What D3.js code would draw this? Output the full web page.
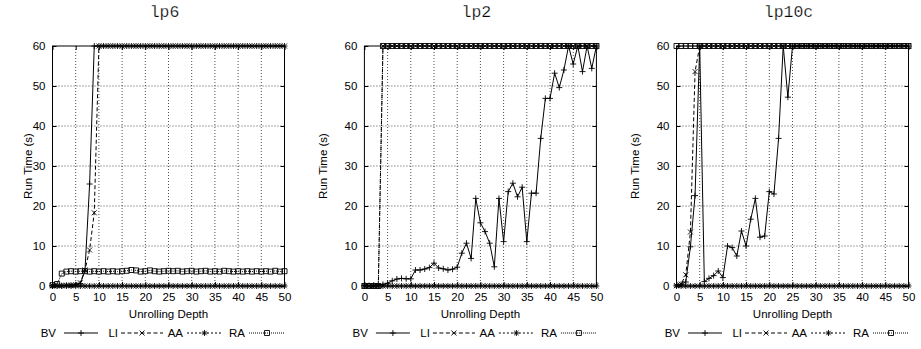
<!DOCTYPE html>
<html><head><meta charset="utf-8">
<script src="https://cdn.jsdelivr.net/npm/d3@7/dist/d3.min.js"></script>
<style>html,body{margin:0;padding:0;background:#fff}svg{display:block}</style>
</head><body>
<svg id="c" width="921" height="349"></svg>
<script>
const depths = [0,1,2,3,4,5,6,7,8,9,10,11,12,13,14,15,16,17,18,19,20,21,22,23,24,25,26,27,28,29,30,31,32,33,34,35,36,37,38,39,40,41,42,43,44,45,46,47,48,49,50];
const xTicks = [0,5,10,15,20,25,30,35,40,45,50];
const yTicks = [0,10,20,30,40,50,60];
const panelTitles = ["lp6","lp2","lp10c"];
const seriesNames = ["BV","LI","AA","RA"];

// lp6
const lp6BV = [0.1,0.1,0.1,0.2,0.2,0.3,0.6,3.8,25.5,60,60,60,60,60,60,60,60,60,60,60,60,60,60,60,60,60,60,60,60,60,60,60,60,60,60,60,60,60,60,60,60,60,60,60,60,60,60,60,60,60,60];
const lp6LI = [0.1,0.1,0.1,0.2,0.2,0.3,0.8,4.0,9.0,18.3,60,60,60,60,60,60,60,60,60,60,60,60,60,60,60,60,60,60,60,60,60,60,60,60,60,60,60,60,60,60,60,60,60,60,60,60,60,60,60,60,60];
const lp6AA = [0,0,0,0,0,0,0,0,0,0,0,0,0,0,0,0,0,0,0,0,0,0,0,0,0,0,0,0,0,0,0,0,0,0,0,0,0,0,0,0,0,0,0,0,0,0,0,0,0,0,0];
const lp6RA = [0.2,0.5,3.1,3.6,3.7,3.6,3.7,3.7,3.6,3.7,3.6,3.7,3.6,3.7,3.6,3.7,3.8,4.0,3.9,3.6,3.7,3.9,3.7,3.6,3.7,3.8,3.7,3.8,3.6,3.7,3.8,3.6,3.7,3.8,3.6,3.7,3.6,3.8,3.7,3.6,3.7,3.6,3.7,3.6,3.7,3.6,3.7,3.6,3.8,3.6,3.7];

// lp2
const lp2BV = [0.1,0.1,0.2,0.3,0.4,0.7,1.3,1.75,1.9,1.8,1.8,4.0,4.0,4.25,4.6,5.7,4.5,4.3,4.0,4.2,4.7,8.2,10.7,6.9,21.9,15.8,13.6,10.7,4.8,21.9,11.1,23.6,25.7,22.3,24.7,11.1,23.2,23.2,36.9,46.9,46.9,53.2,49.6,54.0,60,55.5,60,53.6,60,54.4,60];
const lp2LI = [0,0,0,0,60,60,60,60,60,60,60,60,60,60,60,60,60,60,60,60,60,60,60,60,60,60,60,60,60,60,60,60,60,60,60,60,60,60,60,60,60,60,60,60,60,60,60,60,60,60,60];
const lp2AA = [0,0,0,0,0,0,0,0,0,0,0,0,0,0,0,0,0,0,0,0,0,0,0,0,0,0,0,0,0,0,0,0,0,0,0,0,0,0,0,0,0,0,0,0,0,0,0,0,0,0,0];
const lp2RA = [0,0,0,0,60,60,60,60,60,60,60,60,60,60,60,60,60,60,60,60,60,60,60,60,60,60,60,60,60,60,60,60,60,60,60,60,60,60,60,60,60,60,60,60,60,60,60,60,60,60,60];

// lp10c
const lp10cBV = [0.2,0.4,1.0,9.8,22.6,60,1.1,1.9,2.6,3.75,2.1,10.0,9.6,7.5,13.75,10.0,16.7,21.9,12.2,12.5,23.6,23.0,36.9,60,47.2,60,60,60,60,60,60,60,60,60,60,60,60,60,60,60,60,60,60,60,60,60,60,60,60,60,60];
const lp10cLI = [0.1,0.5,2.8,13.5,53.6,60,60,60,60,60,60,60,60,60,60,60,60,60,60,60,60,60,60,60,60,60,60,60,60,60,60,60,60,60,60,60,60,60,60,60,60,60,60,60,60,60,60,60,60,60,60];
const lp10cAA = [0,0,0,0,0,0,0,0,0,0,0,0,0,0,0,0,0,0,0,0,0,0,0,0,0,0,0,0,0,0,0,0,0,0,0,0,0,0,0,0,0,0,0,0,0,0,0,0,0,0,0];
const lp10cRA = [60,60,60,60,60,60,60,60,60,60,60,60,60,60,60,60,60,60,60,60,60,60,60,60,60,60,60,60,60,60,60,60,60,60,60,60,60,60,60,60,60,60,60,60,60,60,60,60,60,60,60];

const panelData = [
  [lp6BV, lp6LI, lp6AA, lp6RA],
  [lp2BV, lp2LI, lp2AA, lp2RA],
  [lp10cBV, lp10cLI, lp10cAA, lp10cRA]
];

const svg = d3.select("#c");
const FONT = "'Liberation Sans', Arial, Helvetica, sans-serif";
const FS = "11.5px";
const panelX0 = [52.5, 364.4, 676.5];
const ylabX = [28, 323, 635];
const PW = 232, yTop = 46, yBot = 286;

const dashes = ["none", "4,2.5", "2,2", "1,1"];
function marker(i){
  if(i===0) return "M-3,0H3M0,-3V3";
  if(i===1) return "M-2.5,-2.5L2.5,2.5M-2.5,2.5L2.5,-2.5";
  if(i===2) return "M-3,0H3M0,-3V3M-2.2,-2.2L2.2,2.2M-2.2,2.2L2.2,-2.2";
  return "M-2.5,-2.5H2.5V2.5H-2.5Z";
}

panelData.forEach((series, p) => {
  const x0 = panelX0[p];
  const x = d3.scaleLinear().domain([0,50]).range([x0, x0+PW]);
  const y = d3.scaleLinear().domain([0,60]).range([yBot, yTop]);
  const g = svg.append("g");

  // grid
  g.append("g").selectAll("line").data(xTicks.slice(1,-1)).join("line")
    .attr("x1", d=>x(d)).attr("x2", d=>x(d)).attr("y1", yTop).attr("y2", yBot)
    .attr("stroke","#000").attr("stroke-width",0.7).attr("stroke-dasharray","1,2");
  g.append("g").selectAll("line").data(yTicks.slice(1,-1)).join("line")
    .attr("y1", d=>y(d)).attr("y2", d=>y(d)).attr("x1", x0).attr("x2", x0+PW)
    .attr("stroke","#000").attr("stroke-width",0.7).attr("stroke-dasharray","1,2");

  // axes
  const ax = g.append("g").attr("transform",`translate(0,${yBot})`)
    .call(d3.axisBottom(x).tickValues(xTicks).tickSize(-4).tickPadding(7).tickFormat(d3.format("d")));
  const ay = g.append("g").attr("transform",`translate(${x0},0)`)
    .call(d3.axisLeft(y).tickValues(yTicks).tickSize(-4).tickPadding(7).tickFormat(d3.format("d")));
  const ax2 = g.append("g").attr("transform",`translate(0,${yTop})`)
    .call(d3.axisTop(x).tickValues(xTicks).tickSize(-4).tickFormat(""));
  const ay2 = g.append("g").attr("transform",`translate(${x0+PW},0)`)
    .call(d3.axisRight(y).tickValues(yTicks).tickSize(-4).tickFormat(""));
  [ax,ay,ax2,ay2].forEach(a=>{
    a.select(".domain").remove();
    a.selectAll("text").attr("font-family",FONT).attr("font-size",FS).attr("fill","#000");
    a.selectAll("line").attr("stroke","#000");
  });
  g.append("rect").attr("x",x0).attr("y",yTop).attr("width",PW).attr("height",yBot-yTop)
    .attr("fill","none").attr("stroke","#000").attr("stroke-width",1);

  // series
  series.forEach((vals, s) => {
    const line = d3.line().x((d,i)=>x(depths[i])).y(d=>y(d));
    g.append("path").datum(vals).attr("d", line).attr("fill","none")
      .attr("stroke","#000").attr("stroke-width",1).attr("stroke-dasharray",dashes[s]);
    g.append("g").selectAll("path").data(vals).join("path")
      .attr("transform",(d,i)=>`translate(${x(depths[i])},${y(d)})`)
      .attr("d", marker(s)).attr("fill","none").attr("stroke","#000").attr("stroke-width",0.9);
  });

  // title
  svg.append("text").attr("x", x0+PW/2-4).attr("y", 17).attr("text-anchor","middle")
    .attr("font-family","'Liberation Mono', 'Courier New', monospace").attr("font-weight","normal")
    .attr("font-size","16.5px").attr("fill","#000").attr("stroke","#fff").attr("stroke-width",0.25)
    .text(panelTitles[p]);
  // y label
  svg.append("text").attr("transform",`translate(${ylabX[p]+4},${(yTop+yBot)/2}) rotate(-90)`)
    .attr("text-anchor","middle").attr("font-family",FONT).attr("font-size",FS).text("Run Time (s)");
  // x label
  svg.append("text").attr("x", x0+PW/2).attr("y", 318).attr("text-anchor","middle")
    .attr("font-family",FONT).attr("font-size",FS).text("Unrolling Depth");

  // legend
  const textEnds = [x0+3.5, x0+65.5, x0+130.5, x0+192.5];
  const lineStart = [x0+11.5, x0+68.5, x0+134.5, x0+196.5];
  const lineEnd = [x0+45.5, x0+110.5, x0+169.5, x0+232.5];
  const ly = 333;
  seriesNames.forEach((nm, s) => {
    svg.append("text").attr("x", textEnds[s]).attr("y", ly+4).attr("text-anchor","end")
      .attr("font-family",FONT).attr("font-size",FS).text(nm);
    svg.append("line").attr("x1", lineStart[s]).attr("x2", lineEnd[s]).attr("y1", ly).attr("y2", ly)
      .attr("stroke","#000").attr("stroke-width",1).attr("stroke-dasharray",dashes[s]);
    svg.append("path").attr("transform",`translate(${(lineStart[s]+lineEnd[s])/2},${ly})`)
      .attr("d", marker(s)).attr("fill","none").attr("stroke","#000").attr("stroke-width",0.9);
  });
});
</script>
</body></html>
